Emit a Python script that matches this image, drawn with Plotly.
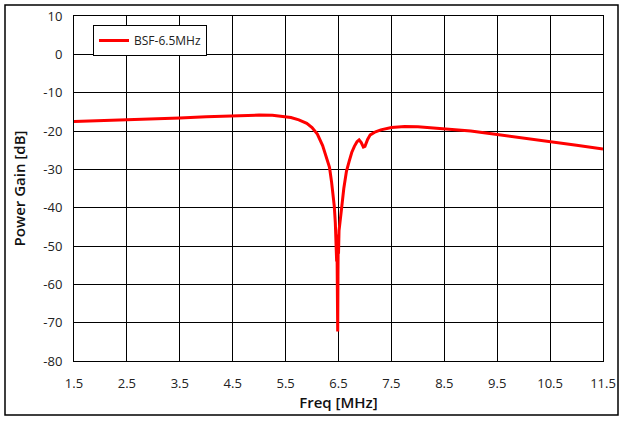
import plotly.graph_objects as go

freq_mhz = [1.5, 2.0, 2.5, 3.0, 3.5, 4.0, 4.5, 5.0, 5.25, 5.5, 5.6, 5.75, 5.9, 6.0,
            6.1, 6.2, 6.25, 6.3, 6.33, 6.37, 6.40, 6.42, 6.44, 6.455, 6.465, 6.47,
            6.478, 6.485, 6.49, 6.495, 6.5, 6.51, 6.53, 6.56, 6.6, 6.65, 6.7, 6.75,
            6.8, 6.85, 6.89, 6.93, 6.97, 7.0, 7.05, 7.1, 7.2, 7.3, 7.5, 7.75, 8.0,
            8.25, 8.5, 9.0, 9.5, 10.0, 10.5, 11.0, 11.5]
gain_db = [-17.5, -17.3, -17.1, -16.9, -16.6, -16.3, -16.0, -15.85, -15.9, -16.2, -16.5,
           -17.1, -18.0, -19.1, -20.8, -23.8, -26.0, -28.0, -29.5, -33.4, -36.5, -39.6,
           -44.0, -49.0, -54.0, -47.0, -60.0, -72.3, -58.0, -47.0, -52.0, -46.0, -43.0,
           -40.0, -35.0, -30.5, -28.0, -25.6, -24.0, -22.8, -22.3, -23.0, -24.2, -24.0,
           -22.2, -21.0, -20.2, -19.7, -19.1, -18.85, -18.9, -19.2, -19.5, -20.0, -20.9,
           -21.8, -22.7, -23.7, -24.7]
series_name = "BSF-6.5MHz"
x_ticks = [1.5, 2.5, 3.5, 4.5, 5.5, 6.5, 7.5, 8.5, 9.5, 10.5, 11.5]
y_ticks = [10, 0, -10, -20, -30, -40, -50, -60, -70, -80]

FONT = "Open Sans"

fig = go.Figure()
fig.add_trace(go.Scatter(x=freq_mhz, y=gain_db, mode="lines", name=series_name,
                         line=dict(color="#ff0000", width=3)))

W, H = 626, 422
L, R, T, B = 74, 23, 16, 61
pw, ph = W - L - R, H - T - B

def px(x):
    return (x - L) / pw

def py(y):
    return (H - B - y) / ph

fig.update_layout(
    width=W, height=H,
    margin=dict(l=L, r=R, t=T, b=B, autoexpand=False),
    paper_bgcolor="white", plot_bgcolor="white",
    font=dict(family=FONT, size=13, color="#222"),
    showlegend=True,
    legend=dict(x=px(93), y=py(25), xanchor="left", yanchor="top",
                bgcolor="white", bordercolor="black", borderwidth=1,
                font=dict(family=FONT, size=12, color="#222"),
                itemwidth=30, tracegroupgap=0),
    xaxis=dict(range=[1.5, 11.5], tickvals=x_ticks, ticktext=[f"{v:g}" for v in x_ticks],
               showgrid=True, gridcolor="black", gridwidth=1,
               showline=True, linecolor="black", linewidth=1, mirror=True,
               zeroline=False, ticks="", ticklabelstandoff=10, automargin=False,
               tickfont=dict(family=FONT, size=13, color="#222"),
               title=dict(text="Freq [MHz]", font=dict(family=FONT, size=15, color="#111", weight=600), standoff=2)),
    yaxis=dict(range=[-80, 10], tickvals=y_ticks, ticktext=[f"{v:g}" for v in y_ticks],
               showgrid=True, gridcolor="black", gridwidth=1,
               showline=True, linecolor="black", linewidth=1, mirror=True,
               zeroline=False, ticks="", ticklabelstandoff=8, automargin=False,
               tickfont=dict(family=FONT, size=13, color="#222"),
               title=dict(text="Power Gain [dB]", font=dict(family=FONT, size=15, color="#111", weight=600), standoff=14)),
    shapes=[dict(type="rect", xref="paper", yref="paper",
                 x0=px(5), x1=px(618), y0=py(415), y1=py(5),
                 line=dict(color="black", width=1.5), fillcolor="rgba(0,0,0,0)", layer="below")],
)

fig.write_html("out.html")
